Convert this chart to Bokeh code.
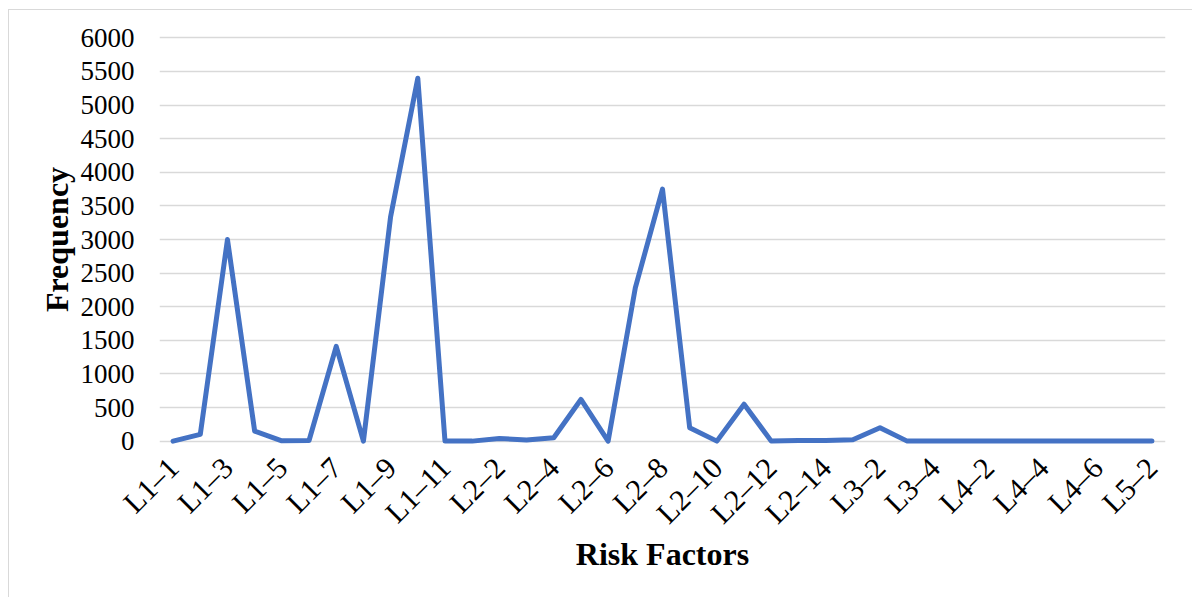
from bokeh.plotting import figure
from bokeh.models import FixedTicker, Range1d
from bokeh.embed import file_html
from bokeh.resources import INLINE

# ---- data ----
categories = (
    [f"L1\u2013{i}" for i in range(1, 12)]
    + [f"L2\u2013{i}" for i in range(1, 15)]
    + [f"L3\u2013{i}" for i in range(1, 5)]
    + [f"L4\u2013{i}" for i in range(1, 7)]
    + [f"L5\u2013{i}" for i in range(1, 3)]
)
frequency = [0, 100, 3000, 150, 5, 10, 1410, 0, 3340, 5400, 0,
             0, 40, 15, 50, 620, 0, 2280, 3750, 200, 0, 550, 0, 10, 10,
             20, 200, 0, 0,
             0, 0, 0, 0, 0, 0,
             0, 0]
y_ticks = list(range(0, 6001, 500))

xs = list(range(len(categories)))

FONT = "Liberation Serif"

p = figure(width=1184, height=588, output_backend="svg", toolbar_location=None,
           x_range=Range1d(-0.5, len(categories) - 0.5),
           y_range=Range1d(-80, 6080),
           min_border_left=150, min_border_right=28,
           min_border_top=22, min_border_bottom=152)
p.styles = {"margin-left": "8px", "margin-top": "9px",
            "border-left": "1.5px solid #d9d9d9",
            "border-top": "1.5px solid #d9d9d9"}
p.outline_line_color = None
p.background_fill_color = "white"
p.border_fill_color = "white"

p.line(xs, frequency, line_color="#4472C4", line_width=5,
       line_join="round", line_cap="round")

# y axis
p.yaxis.ticker = FixedTicker(ticks=y_ticks)
p.yaxis.axis_line_color = None
p.yaxis.major_tick_line_color = None
p.yaxis.minor_tick_line_color = None
p.yaxis.major_label_text_font = FONT
p.yaxis.major_label_text_font_size = "27px"
p.yaxis.major_label_text_color = "black"
p.yaxis.major_label_standoff = 19
p.yaxis.axis_label = "Frequency"
p.yaxis.axis_label_text_font = FONT
p.yaxis.axis_label_text_font_style = "bold"
p.yaxis.axis_label_text_font_size = "32px"
p.yaxis.axis_label_text_color = "black"
p.yaxis.axis_label_standoff = 3

# x axis
even = xs[::2]
p.xaxis.ticker = FixedTicker(ticks=even)
p.xaxis.major_label_overrides = {i: categories[i] for i in even}
p.xaxis.major_label_orientation = 0.785398
p.xaxis.axis_line_color = None
p.xaxis.major_tick_line_color = None
p.xaxis.minor_tick_line_color = None
p.xaxis.major_label_text_font = FONT
p.xaxis.major_label_text_font_size = "30px"
p.xaxis.major_label_text_color = "black"
p.xaxis.major_label_standoff = 10
p.xaxis.axis_label = "Risk Factors"
p.xaxis.axis_label_text_font = FONT
p.xaxis.axis_label_text_font_style = "bold"
p.xaxis.axis_label_text_font_size = "32px"
p.xaxis.axis_label_text_color = "black"
p.xaxis.axis_label_standoff = -8

p.xgrid.grid_line_color = None
p.ygrid.grid_line_color = "#d9d9d9"
p.ygrid.grid_line_width = 1.5

open("out.html", "w").write(file_html(p, INLINE))
